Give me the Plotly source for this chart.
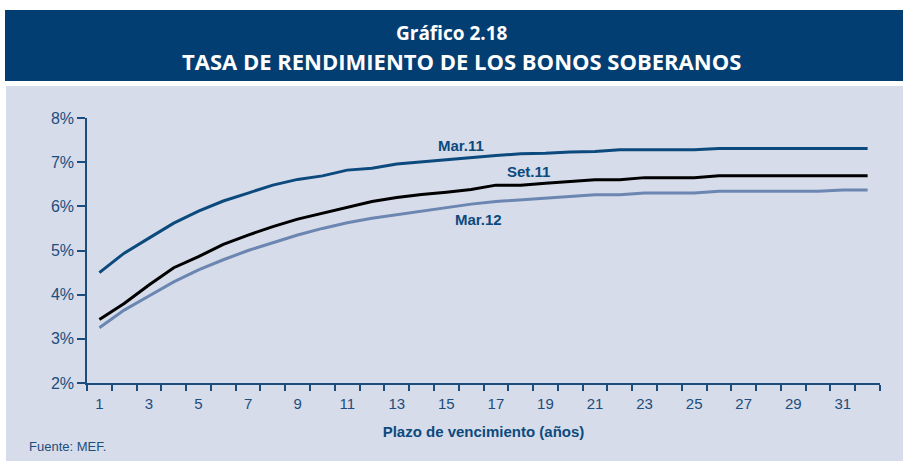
import plotly.graph_objects as go

plazo = list(range(1, 33))
mar11 = [4.50, 4.94, 5.28, 5.62, 5.89, 6.12, 6.30, 6.48, 6.61, 6.69, 6.82, 6.86, 6.96,
         7.01, 7.06, 7.10, 7.15, 7.19, 7.20, 7.23, 7.24, 7.28, 7.28, 7.28, 7.28, 7.31,
         7.31, 7.31, 7.31, 7.31, 7.31, 7.31]
set11 = [3.44, 3.80, 4.22, 4.61, 4.86, 5.14, 5.35, 5.54, 5.71, 5.84, 5.97, 6.11, 6.20,
         6.27, 6.32, 6.38, 6.48, 6.48, 6.52, 6.56, 6.60, 6.60, 6.65, 6.65, 6.65, 6.69,
         6.69, 6.69, 6.69, 6.69, 6.69, 6.69]
mar12 = [3.25, 3.65, 3.97, 4.29, 4.56, 4.79, 5.00, 5.18, 5.35, 5.50, 5.63, 5.73, 5.81,
         5.89, 5.98, 6.05, 6.11, 6.15, 6.18, 6.22, 6.26, 6.26, 6.30, 6.30, 6.30, 6.34,
         6.34, 6.34, 6.34, 6.34, 6.37, 6.37]
series_names = ["Mar.11", "Set.11", "Mar.12"]
x_labels = list(range(1, 33, 2))
y_ticks = [2, 3, 4, 5, 6, 7, 8]

W, H = 903, 461
L, R, T, B = 87, 880, 118, 383

def px(xp):
    return (xp - L) / (R - L)

def py(yp):
    return (B - yp) / (B - T)

DARK = "#0c4a7e"
AXC = "#1d4d7d"
BG = "#d6dce9"
FONT = "Liberation Sans Narrow, Liberation Sans, sans-serif"

fig = go.Figure()
fig.add_trace(go.Scatter(x=plazo, y=mar11, mode="lines", name=series_names[0],
                         line=dict(color=DARK, width=3)))
fig.add_trace(go.Scatter(x=plazo, y=set11, mode="lines", name=series_names[1],
                         line=dict(color="#000000", width=3)))
fig.add_trace(go.Scatter(x=plazo, y=mar12, mode="lines", name=series_names[2],
                         line=dict(color="#6c86b2", width=3)))

shapes = [
    dict(type="rect", xref="paper", yref="paper", x0=px(0), x1=px(W), y0=py(0), y1=py(86),
         fillcolor="white", line=dict(width=0), layer="below"),
    dict(type="rect", xref="paper", yref="paper", x0=px(0), x1=px(6), y0=py(0), y1=py(H),
         fillcolor="white", line=dict(width=0), layer="below"),
    dict(type="rect", xref="paper", yref="paper", x0=px(5), x1=px(W), y0=py(10), y1=py(81),
         fillcolor="#033e73", line=dict(width=0), layer="below"),
]

lab_font = dict(family=FONT, size=15, color=DARK)
annotations = [
    dict(text="<b>Gráfico 2.18</b>", xref="paper", yref="paper", x=px(452), y=py(33),
         xanchor="center", yanchor="middle", showarrow=False,
         font=dict(family="Open Sans, sans-serif", size=19, color="white")),
    dict(text="<b>TASA DE RENDIMIENTO DE LOS BONOS SOBERANOS</b>", xref="paper", yref="paper",
         x=px(461), y=py(61.5), xanchor="center", yanchor="middle", showarrow=False,
         font=dict(family="Open Sans, sans-serif", size=22, color="white")),
    dict(text="Fuente: MEF.", xref="paper", yref="paper", x=px(27), y=py(446),
         xanchor="left", yanchor="middle", showarrow=False,
         font=dict(family=FONT, size=13, color=AXC)),
    dict(text="<b>" + series_names[0] + "</b>", x=15.6, y=7.38, showarrow=False, font=lab_font),
    dict(text="<b>" + series_names[1] + "</b>", x=18.3, y=6.78, showarrow=False, font=lab_font),
    dict(text="<b>" + series_names[2] + "</b>", x=16.3, y=5.70, showarrow=False, font=lab_font),
]

fig.update_layout(
    width=W, height=H,
    margin=dict(l=L, r=W - R, t=T, b=H - B, pad=0),
    paper_bgcolor=BG, plot_bgcolor="rgba(0,0,0,0)",
    showlegend=False,
    shapes=shapes, annotations=annotations,
    xaxis=dict(range=[0.5, 32.5], tickvals=x_labels, ticktext=[str(v) for v in x_labels],
               ticks="outside", ticklen=6, tickcolor="rgba(0,0,0,0)",
               minor=dict(tickvals=[v + 0.5 for v in range(0, 33)], ticks="outside",
                          ticklen=6, tickcolor=AXC, tickwidth=1.5),
               showline=True, linecolor=AXC, linewidth=1.5, showgrid=False, zeroline=False,
               tickfont=dict(family=FONT, size=15, color=AXC),
               title=dict(text="<b>Plazo de vencimiento (años)</b>", standoff=16,
                          font=dict(family=FONT, size=15, color=DARK))),
    yaxis=dict(range=[2, 8], tickvals=y_ticks, ticktext=[f"{v}%" for v in y_ticks],
               ticks="outside", ticklen=8, tickcolor=AXC, tickwidth=1.5,
               showline=True, linecolor=AXC, linewidth=1.5, showgrid=False, zeroline=False,
               tickfont=dict(family=FONT, size=16, color=AXC)),
)

fig.write_html("out.html", config={"displayModeBar": False},
               post_script="document.body.style.margin='0';")
